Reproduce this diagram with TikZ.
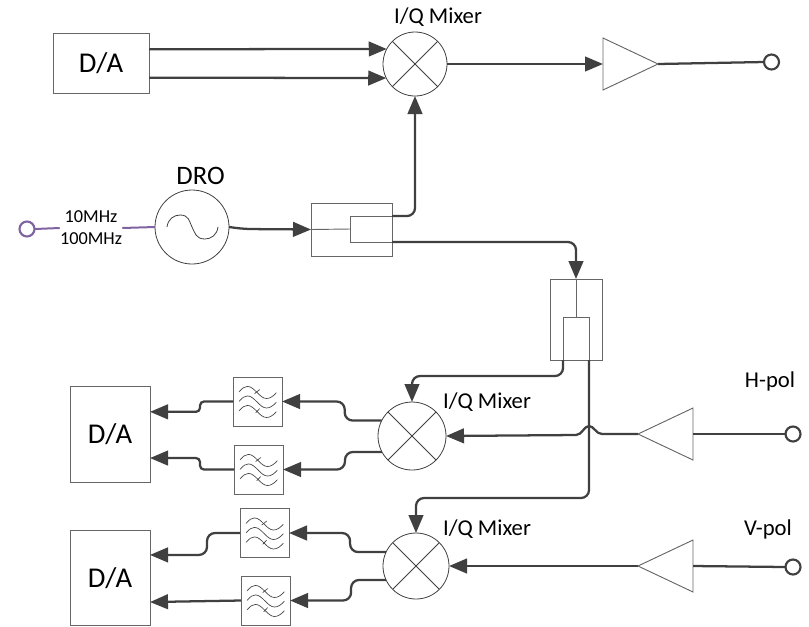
\documentclass[tikz,border=0pt]{standalone}
\usepackage{fontspec}
\setmainfont{Carlito}
\usetikzlibrary{arrows.meta,shapes.geometric}
\definecolor{signalLine}{HTML}{404040}
\definecolor{boxLine}{HTML}{666666}
\definecolor{thinLine}{HTML}{404040}
\definecolor{refLine}{HTML}{8064A2}

\begin{document}
\begin{tikzpicture}[
      x=0.75pt, y=-0.75pt,
      boxnode/.style={rectangle, draw=boxLine, line width=0.7pt, inner sep=0pt, outer sep=0pt, align=center, font=\fontsize{21.5}{24}\selectfont},
      mixer/.style={circle, draw=thinLine, line width=0.6pt, fill=white, inner sep=0pt, outer sep=0pt, path picture={
          \draw[thinLine, line width=0.7pt] (path picture bounding box.north west) -- (path picture bounding box.south east);
          \draw[thinLine, line width=0.7pt] (path picture bounding box.south west) -- (path picture bounding box.north east);}},
      oscil/.style={circle, draw=thinLine, line width=0.6pt, inner sep=0pt, outer sep=0pt, minimum size=55.5pt, path picture={
          \draw[thinLine, line width=0.6pt] ([shift={(-25,0)}]path picture bounding box.center) .. controls +(1,-8) and +(-6,0) .. ++(13,-12) .. controls +(9,0) and +(-3,-6) .. ++(12,12) .. controls +(3,6) and +(-9,0) .. ++(13,12) .. controls +(6,0) and +(-1,8) .. ++(13,-12);}},
      lowpass/.style={rectangle, draw=boxLine, line width=0.7pt, inner sep=0pt, outer sep=0pt, minimum size=36.75pt, path picture={
          \foreach \off in {-9.5,0,9.5}
            \draw[thinLine, line width=0.5pt] ([shift={(-18.5,\off)}]path picture bounding box.center) .. controls +(3.5,-4) and +(-3,0) .. ++(8.5,-5.6) .. controls +(7,0) and +(-7,0) .. ++(19,12.1) .. controls +(4,0) and +(-3,3.3) .. ++(9.8,-5.8);
          \draw[thinLine, line width=0.5pt] ([shift={(-2.8,-8)}]path picture bounding box.center) -- ++(5,-4);
          \draw[thinLine, line width=0.5pt] ([shift={(-1.8,11.3)}]path picture bounding box.center) -- ++(4,-4.3);}},
      amp/.style={isosceles triangle, isosceles triangle stretches, draw=boxLine, line width=0.7pt, inner sep=0pt, outer sep=0pt, minimum width=39pt, minimum height=41.25pt},
      port/.style={circle, draw=signalLine, line width=1.6pt, fill=white, inner sep=0pt, outer sep=0pt, minimum size=11.25pt},
      label/.style={inner sep=0pt, font=\fontsize{17}{20}\selectfont},
      sig/.style={-{Triangle[length=13.5pt, width=11pt]}, line width=1.7pt, draw=signalLine, rounded corners=6pt},
      wire/.style={line width=1.7pt, draw=signalLine},
      inner/.style={line width=0.7pt, draw=boxLine},
      refwire/.style={line width=1.5pt, draw=refLine}
    ]
      \useasboundingbox (0,0) rectangle (809,626);
      \node[boxnode, minimum width=72pt, minimum height=45pt] (daca) at (101,63) {D/A};
      \node[mixer, minimum size=48pt] (mixa) at (415,64) {};
      \node[amp, anchor=apex] (ampa) at (658,64) {};
      \node[port] (porta) at (771.5,62) {};
      \node[label] (mixatext) at (438,17) {I/Q Mixer};

      \node[port, draw=refLine] (portd) at (27,229) {};
      \node[inner sep=0pt, align=center, font=\fontsize{13.7}{16.5}\selectfont] (refin) at (91,228) {10MHz\\100MHz};
      \node[oscil] (dro) at (192,227) {};
      \node[inner sep=0pt, font=\fontsize{20}{24}\selectfont] (drotext) at (200.5,176) {DRO};
      \node[boxnode, minimum width=60.75pt, minimum height=39.75pt] (cpla) at (351.5,229.5) {};
      \node[boxnode, minimum width=31.5pt, minimum height=19.5pt] (cplai) at (371,229) {};
      \node[boxnode, minimum width=39pt, minimum height=60.75pt] (cplb) at (576,319.5) {};
      \node[boxnode, minimum width=19.5pt, minimum height=32.25pt] (cplbi) at (576,338.5) {};

      \node[mixer, minimum size=51pt] (mixb) at (412,436) {};
      \node[label] (mixbtext) at (487,402) {I/Q Mixer};
      \node[lowpass] (lpfa) at (257.5,401.5) {};
      \node[lowpass] (lpfb) at (258.5,469.5) {};
      \node[boxnode, minimum width=60pt, minimum height=72pt] (dacb) at (110,434) {D/A};
      \node[amp, shape border rotate=180, anchor=apex] (ampb) at (638,434) {};
      \node[port] (porth) at (793,434) {};
      \node[label] (hpol) at (770,381) {H-pol};

      \node[mixer, minimum size=49.5pt] (mixc) at (416,566) {};
      \node[label] (mixctext) at (487,529) {I/Q Mixer};
      \node[lowpass] (lpfc) at (264.5,533) {};
      \node[lowpass] (lpfd) at (265.5,600.5) {};
      \node[boxnode, minimum width=60pt, minimum height=71.5pt] (dacc) at (110,578) {D/A};
      \node[amp, shape border rotate=180, anchor=apex] (ampc) at (638,566) {};
      \node[port] (portv) at (793,567) {};
      \node[label] (vpol) at (768,529) {V-pol};

      \draw[sig] (daca.16) -- (mixa.152);
      \draw[sig] (daca.-17) -- (mixa.206);
      \draw[sig] (mixa.east) -- (ampa.lower side);
      \draw[wire] (ampa.apex) -- (porta.west);
      \draw[refwire] (portd.east) -- (refin.west);
      \draw[refwire] (refin.east) -- (dro.west);
      \draw[sig] (dro.east) -- ++(15,2) -- (cpla.west);
      \draw[inner] (cpla.west) -- (cplai.west);
      \draw[sig] (cplai.north east) -| (mixa.south);
      \draw[sig] (cplai.south east) -| (cplb.north);
      \draw[inner] (cplb.north) -- (cplbi.north);
      \draw[sig] (cplbi.south west) -- ++(0,16) -| (mixb.north);
      \draw[sig] (cplbi.south east) -- ++(0,138) -| (mixc.north);
      \draw[wire] (porth.west) -- (ampb.lower side);
      \draw[sig, sharp corners] (ampb.apex) -- ++(-36,0) .. controls +(-6,0) and +(5,0) .. ++(-13,-8) .. controls +(-5,0) and +(6,0) .. ++(-13,9) -- (mixb.east);
      \draw[wire] (portv.west) -- (ampc.lower side);
      \draw[sig] (ampc.apex) -- (mixc.east);
      \draw[sig] (mixb.153) -- ++(-37,0) |- (lpfa.east);
      \draw[sig] (mixb.208) -- ++(-37,0) |- (lpfb.east);
      \draw[sig, rounded corners=3pt] (lpfa.west) -- ++(-33,0) |- (dacb.29);
      \draw[sig, rounded corners=3pt] (lpfb.west) -- ++(-34,0) |- (dacb.-31);
      \draw[sig] (mixc.155) -- ++(-36,0) |- (lpfc.east);
      \draw[sig] (mixc.205) -- ++(-35,0) |- (lpfd.east);
      \draw[sig] (lpfc.west) -- ++(-33,0) |- (dacc.30);
      \draw[sig] (lpfd.west) -- (dacc.-31);
    \end{tikzpicture}
\end{document}
